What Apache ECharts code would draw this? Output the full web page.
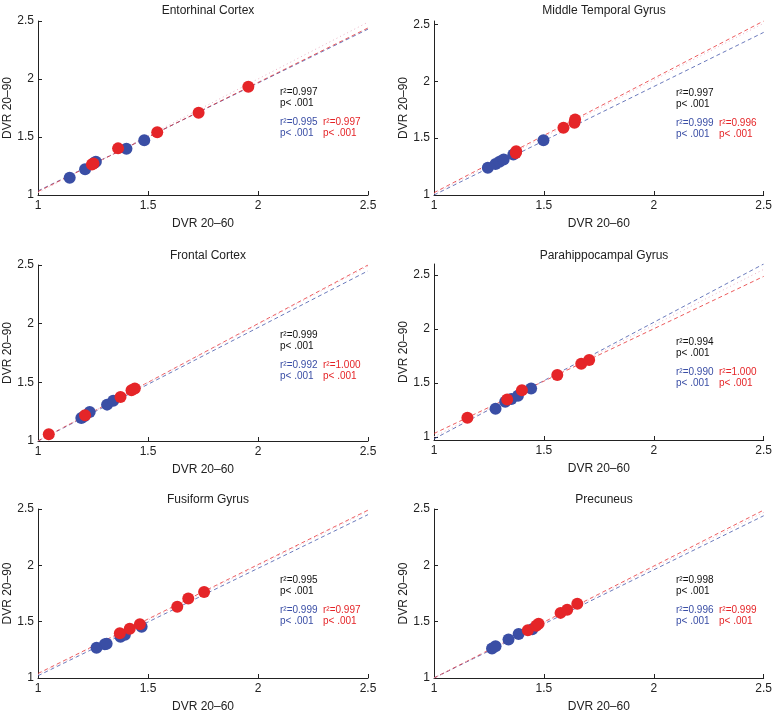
<!DOCTYPE html>
<html>
<head>
<meta charset="utf-8">
<script src="https://cdn.jsdelivr.net/npm/echarts@6/dist/echarts.min.js"></script>
<style>
  html, body { margin: 0; padding: 0; background: #fff; }
  #main { width: 775px; height: 714px; }
</style>
</head>
<body>
<div id="main"></div>
<script>
// tick labels
const xTicks = [1, 1.5, 2, 2.5];
const yTicks = [1, 1.5, 2, 2.5];
const xName = "DVR 20\u201360";
const yName = "DVR 20\u201390";
const fitX = [1, 2.5];

const titles = ["Entorhinal Cortex", "Middle Temporal Gyrus", "Frontal Cortex",
  "Parahippocampal Gyrus", "Fusiform Gyrus", "Precuneus"];

// points [DVR 20-60, DVR 20-90]
const entorhinalBlue = [[1.144, 1.149], [1.214, 1.221], [1.255, 1.275], [1.263, 1.286], [1.402, 1.399], [1.483, 1.471]];
const entorhinalRed = [[1.245, 1.262], [1.252, 1.272], [1.364, 1.402], [1.542, 1.540], [1.730, 1.710], [1.956, 1.934]];
const temporalBlue = [[1.245, 1.240], [1.280, 1.272], [1.298, 1.292], [1.317, 1.313], [1.361, 1.357], [1.498, 1.482]];
const temporalRed = [[1.372, 1.370], [1.374, 1.385], [1.589, 1.591], [1.639, 1.635], [1.642, 1.664]];
const frontalBlue = [[1.197, 1.196], [1.210, 1.210], [1.235, 1.248], [1.314, 1.310], [1.342, 1.344]];
const frontalRed = [[1.049, 1.057], [1.214, 1.219], [1.375, 1.376], [1.425, 1.433], [1.440, 1.447]];
const parahippBlue = [[1.280, 1.260], [1.324, 1.325], [1.352, 1.350], [1.382, 1.380], [1.442, 1.448]];
const parahippRed = [[1.152, 1.176], [1.333, 1.346], [1.400, 1.430], [1.561, 1.572], [1.670, 1.677], [1.706, 1.711]];
const fusiformBlue = [[1.266, 1.268], [1.304, 1.299], [1.312, 1.305], [1.375, 1.367], [1.395, 1.384], [1.471, 1.455]];
const fusiformRed = [[1.372, 1.398], [1.417, 1.438], [1.463, 1.478], [1.633, 1.632], [1.683, 1.706], [1.755, 1.763]];
const precuneusBlue = [[1.264, 1.262], [1.280, 1.282], [1.339, 1.342], [1.385, 1.390], [1.447, 1.433]];
const precuneusRed = [[1.427, 1.424], [1.465, 1.464], [1.476, 1.481], [1.576, 1.578], [1.606, 1.606], [1.652, 1.660]];

// fitted values at x = 1 and x = 2.5: [blue, red, all]
const entorhinalFits = [[1.035, 2.43], [1.03, 2.44], [1.02, 2.49]];
const temporalFits = [[1.0, 2.43], [1.02, 2.53], [1.01, 2.51]];
const frontalFits = [[1.0, 2.45], [1.0, 2.5], [1.0, 2.49]];
const parahippFits = [[0.98, 2.6], [1.03, 2.485], [1.0, 2.55]];
const fusiformFits = [[1.02, 2.45], [1.04, 2.49], [1.03, 2.48]];
const precuneusFits = [[1.0, 2.44], [1.0, 2.49], [1.0, 2.47]];

// r^2 values: [all, blue, red]
const entorhinalR2 = ["0.997", "0.995", "0.997"];
const temporalR2 = ["0.997", "0.999", "0.996"];
const frontalR2 = ["0.999", "0.992", "1.000"];
const parahippR2 = ["0.994", "0.990", "1.000"];
const fusiformR2 = ["0.995", "0.999", "0.997"];
const precuneusR2 = ["0.998", "0.996", "0.999"];

const yMins = [1, 1, 1, 0.97, 1, 1];
const yMaxs = [2.5, 2.53, 2.5, 2.6, 2.5, 2.5];

const blues = [entorhinalBlue, temporalBlue, frontalBlue, parahippBlue, fusiformBlue, precuneusBlue];
const reds = [entorhinalRed, temporalRed, frontalRed, parahippRed, fusiformRed, precuneusRed];
const fits = [entorhinalFits, temporalFits, frontalFits, parahippFits, fusiformFits, precuneusFits];
const r2s = [entorhinalR2, temporalR2, frontalR2, parahippR2, fusiformR2, precuneusR2];

const BLUE = "#3a4ea5";
const RED = "#e52528";
const FONT = "Liberation Sans";

// panel layout
const grids = [
  { left: 38, top: 21, width: 330, height: 174 },
  { left: 434, top: 21, width: 330, height: 174 },
  { left: 38, top: 265, width: 330, height: 176 },
  { left: 434, top: 264, width: 330, height: 176 },
  { left: 38, top: 509, width: 330, height: 176 },
  { left: 434, top: 509, width: 330, height: 176 }
];
const titleTops = [0, 0, 245, 245, 489, 489];
const statTops = [92, 93, 335, 342, 580, 580];

let myChart = echarts.init(document.getElementById("main"));

let xAxes = [], yAxes = [], series = [], title = [], graphic = [];
grids.forEach((g, i) => {
  xAxes.push({
    gridIndex: i, type: "value", min: 1, max: 2.5, interval: 0.5,
    name: xName, nameLocation: "middle", nameGap: 23,
    nameTextStyle: { fontFamily: FONT, fontSize: 12, color: "#222" },
    axisLine: { lineStyle: { color: "#222", width: 1 } },
    axisTick: { inside: true, length: 4, lineStyle: { color: "#222" } },
    axisLabel: { fontFamily: FONT, fontSize: 12, color: "#222", margin: 5 },
    splitLine: { show: false }
  });
  yAxes.push({
    gridIndex: i, type: "value", min: yMins[i], max: yMaxs[i],
    name: yName, nameLocation: "middle", nameGap: 23, nameRotate: 90,
    nameTextStyle: { fontFamily: FONT, fontSize: 12, color: "#222" },
    axisLine: { show: true, lineStyle: { color: "#222", width: 1 } },
    axisTick: { inside: true, length: 4, customValues: yTicks, lineStyle: { color: "#222" } },
    axisLabel: { fontFamily: FONT, fontSize: 12, color: "#222", margin: 4, customValues: yTicks },
    splitLine: { show: false }
  });
  title.push({
    text: titles[i], left: g.left + g.width / 2, top: titleTops[i], textAlign: "center",
    textStyle: { fontFamily: FONT, fontSize: 12, fontWeight: "normal", color: "#222" }
  });
  const lineStyles = [
    { color: BLUE, width: 1, type: [4, 3], opacity: 0.75 },
    { color: RED, width: 1, type: [4, 3], opacity: 0.75 },
    { color: "#e9b4c6", width: 1, type: [1, 3] }
  ];
  fits[i].forEach((f, k) => {
    series.push({
      type: "line", xAxisIndex: i, yAxisIndex: i, showSymbol: false, silent: true,
      data: fitX.map((x, j) => [x, f[j]]), lineStyle: lineStyles[k], z: 1
    });
  });
  series.push({
    type: "scatter", xAxisIndex: i, yAxisIndex: i, data: blues[i],
    symbolSize: 12, itemStyle: { color: BLUE, opacity: 1 }, z: 3
  });
  series.push({
    type: "scatter", xAxisIndex: i, yAxisIndex: i, data: reds[i],
    symbolSize: 12, itemStyle: { color: RED, opacity: 1 }, z: 4
  });
  const sx = g.left + 242, rx = g.left + 285, sy = statTops[i];
  const txt = (x, y, t, c) => graphic.push({
    type: "text", x: x, y: y,
    style: { text: t, fill: c, font: "10px " + FONT, verticalAlign: "middle" }
  });
  txt(sx, sy, "r\u00b2=" + r2s[i][0], "#111");
  txt(sx, sy + 11, "p< .001", "#111");
  txt(sx, sy + 30, "r\u00b2=" + r2s[i][1], BLUE);
  txt(sx, sy + 41, "p< .001", BLUE);
  txt(rx, sy + 30, "r\u00b2=" + r2s[i][2], RED);
  txt(rx, sy + 41, "p< .001", RED);
});

myChart.setOption({
  animation: false,
  backgroundColor: "#fff",
  title: title,
  grid: grids,
  xAxis: xAxes,
  yAxis: yAxes,
  series: series,
  graphic: graphic
});
</script>
</body>
</html>
